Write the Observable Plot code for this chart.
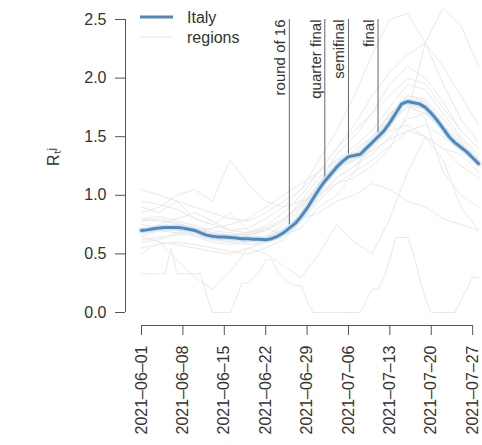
<!DOCTYPE html>
<html><head><meta charset="utf-8">
<script src="https://cdn.jsdelivr.net/npm/d3@7"></script>
<script src="https://cdn.jsdelivr.net/npm/@observablehq/plot@0.6"></script>
<style>
body{margin:0;background:#fff;overflow:hidden}
#wrap{position:relative;width:482px;height:445px;overflow:hidden}
#legend{position:absolute;left:0;top:0}
svg.plot{overflow:hidden}
</style></head><body>
<div id="wrap"><div id="chart"></div>
<svg id="legend" width="260" height="50" style="font:16px 'Liberation Sans',Arial,sans-serif">
  <line x1="140" x2="173" y1="17" y2="17" stroke="#5088bd" stroke-width="3"/>
  <line x1="140" x2="173" y1="37" y2="37" stroke="#e8e8e8" stroke-width="1"/>
  <text x="187" y="23" fill="#333">Italy</text>
  <text x="187" y="43" fill="#333">regions</text>
</svg></div>
<script>
// Italy, daily from 2021-06-01
const italyStart = "2021-06-01";
const italyValues = [0.70,0.705,0.715,0.72,0.725,0.725,0.725,0.72,0.71,0.70,
  0.68,0.66,0.65,0.645,0.645,0.64,0.635,0.63,0.63,0.625,
  0.625,0.62,0.63,0.65,0.68,0.72,0.76,0.82,0.89,0.97,
  1.05,1.12,1.18,1.24,1.29,1.33,1.34,1.35,1.40,1.45,
  1.50,1.55,1.62,1.70,1.78,1.80,1.79,1.78,1.75,1.70,
  1.64,1.57,1.50,1.45,1.41,1.37,1.32,1.27];

// regions, sampled every 3 days
const regionDates = ["2021-06-01","2021-06-04","2021-06-07","2021-06-10","2021-06-13","2021-06-16","2021-06-19","2021-06-22","2021-06-25","2021-06-28",
  "2021-07-01","2021-07-04","2021-07-07","2021-07-10","2021-07-13","2021-07-16","2021-07-19","2021-07-22","2021-07-25","2021-07-28"];
const rA = [0.80,0.82,0.78,0.74,0.70,0.68,0.66,0.70,0.78,0.95,1.15,1.30,1.42,1.55,1.75,1.95,1.90,1.70,1.50,1.35];
const rB = [0.65,0.70,0.75,0.72,0.68,0.62,0.60,0.64,0.72,0.88,1.10,1.35,1.50,1.70,1.95,2.10,2.00,1.80,1.55,1.40];
const rC = [1.05,1.00,0.95,0.90,0.85,0.80,0.78,0.85,0.95,1.05,1.20,1.30,1.35,1.50,1.70,1.85,1.80,1.60,1.45,1.30];
const rD = [0.60,0.62,0.68,0.70,0.72,0.75,0.80,0.90,1.00,1.10,1.20,1.40,1.60,1.85,2.05,2.20,2.30,2.10,1.85,1.60];
const rE = [0.85,0.90,1.00,1.05,0.95,1.30,1.10,0.95,0.90,0.95,1.00,1.15,1.25,1.40,1.55,1.60,1.50,1.40,1.35,1.20];
const rF = [0.75,0.72,0.70,0.66,0.62,0.60,0.58,0.60,0.66,0.80,0.98,1.15,1.25,1.35,1.50,1.65,1.70,1.60,1.45,1.30];
const rG = [0.55,0.58,0.60,0.58,0.55,0.52,0.50,0.55,0.62,0.78,0.95,1.10,1.20,1.30,1.42,1.55,1.60,1.50,1.38,1.25];
const rH = [0.70,0.75,0.80,0.85,0.78,0.70,0.72,0.80,0.90,1.05,1.30,1.55,1.85,2.20,2.50,2.55,2.30,1.95,1.65,1.45];
const rI = [0.65,0.60,0.58,0.55,0.52,0.50,0.55,0.60,0.70,0.85,1.00,1.10,1.15,1.25,1.40,1.70,2.30,2.60,2.45,2.10];
const rJ = [0.78,0.80,0.76,0.72,0.68,0.66,0.68,0.74,0.85,1.00,1.20,1.40,1.55,1.70,1.85,2.00,1.95,1.75,1.55,1.40];
const rK = [0.95,0.92,0.88,0.80,0.75,0.70,0.68,0.72,0.80,0.92,1.05,1.20,1.30,1.45,1.65,1.75,1.70,1.55,1.40,1.25];
const rL = [0.72,0.70,0.68,0.65,0.60,0.58,0.60,0.65,0.75,0.90,1.10,1.25,1.30,1.38,1.48,1.55,1.50,1.40,1.25,1.15];
const rM = [0.90,0.85,0.95,0.80,0.75,0.85,0.70,0.60,0.70,0.80,0.85,0.95,1.00,1.10,1.05,0.95,0.90,0.80,0.75,0.70];
const rN = [0.50,0.60,0.45,0.30,0.20,0.35,0.55,0.50,0.40,0.30,0.50,0.75,0.60,0.50,0.80,1.20,1.50,1.30,0.90,0.70];
const rQ = [0.62,0.64,0.66,0.68,0.64,0.60,0.66,0.72,0.66,0.72,0.90,1.00,1.20,1.45,1.70,1.80,1.65,1.20,1.00,0.90];
const rO = [0.80,0.78,0.76,0.72,0.68,0.66,0.66,0.70,0.78,0.92,1.10,1.28,1.38,1.50,1.68,1.85,1.82,1.65,1.48,1.32];
const rP = [0.68,0.70,0.72,0.70,0.66,0.64,0.62,0.64,0.70,0.84,1.05,1.22,1.32,1.44,1.60,1.76,1.74,1.58,1.42,1.28];
// small region, daily from 2021-06-01
const stepRegion = [0.33,0.33,0.33,0.33,0.33,0.55,0.33,0.33,0.33,0.33,
  0.33,0.15,0.0,0.0,0.0,0.0,0.12,0.25,0.25,0.30,
  0.35,0.45,0.45,0.35,0.30,0.25,0.23,0.23,0.10,0.0,
  0.0,0.0,0.0,0.0,0.0,0.0,0.0,0.0,0.10,0.20,
  0.20,0.30,0.45,0.64,0.64,0.64,0.50,0.30,0.12,0.0,
  0.0,0.0,0.0,0.0,0.10,0.20,0.30,0.30];

const eventDates = ["2021-06-26","2021-07-02","2021-07-06","2021-07-11"];
const eventLabels = ["round of 16","quarter final","semifinal","final"];
const xTickLabels = ["2021-06-01","2021-06-08","2021-06-15","2021-06-22","2021-06-29","2021-07-06","2021-07-13","2021-07-20","2021-07-27"];
const yTicks = [0,0.5,1,1.5,2,2.5];
const yLabel = "Rₜʲ";

const parse = d3.utcParse("%Y-%m-%d");
const start = parse(italyStart);
const italy = italyValues.map((v,i)=>({date:d3.utcDay.offset(start,i), value:v}));
const grayRegions = [rA,rB,rC,rD,rE,rF,rG,rH,rI,rJ,rK,rL,rM,rN,rQ];
const orangeRegions = [rO,rP];
const toRows = list => list.flatMap((vals,k)=>vals.map((v,i)=>({id:k,date:parse(regionDates[i]),value:v})));
const grayRows = toRows(grayRegions).concat(stepRegion.map((v,i)=>({id:99,date:d3.utcDay.offset(start,i),value:v})));
const orangeRows = toRows(orangeRegions);
const italyAt = d => italyValues[d3.utcDay.count(start,d)];
const events = eventDates.map((s,i)=>({date:parse(s),label:eventLabels[i]}));
const xTicks = xTickLabels.map(parse);
const fmt = d3.utcFormat("%Y-%m-%d");
const axisColor = "#555";
const textColor = "#333";

const chart = Plot.plot({
  width:482, height:445,
  marginLeft:141, marginRight:0, marginTop:19, marginBottom:133,
  x:{type:"utc", domain:[start, d3.utcHour.offset(parse("2021-07-28"),16)]},
  y:{domain:[0,2.5]},
  style:{fontFamily:"'Liberation Sans',Arial,sans-serif", fontSize:"16px", color:textColor, background:"#fff"},
  marks:[
    Plot.line(grayRows,{x:"date",y:"value",z:"id",stroke:"#e9e9e9",strokeWidth:1}),
    Plot.line(orangeRows,{x:"date",y:"value",z:"id",stroke:"#f7e4d4",strokeWidth:1}),
    Plot.ruleX(events,{x:"date",y1:2.5,y2:d=>italyAt(d.date),stroke:"#666",strokeWidth:1}),
    Plot.text(events,{x:"date",y:2.5,text:"label",rotate:-90,textAnchor:"end",dx:-9,fill:textColor,fontSize:15}),
    Plot.line(italy,{x:"date",y:"value",stroke:"#d3e6f4",strokeWidth:6}),
    Plot.line(italy,{x:"date",y:"value",stroke:"#5088bd",strokeWidth:3}),
    Plot.ruleX([start],{y1:0,y2:2.5,dx:-16,stroke:axisColor}),
    Plot.axisY({ticks:yTicks,tickFormat:d3.format(".1f"),tickSize:10,tickPadding:9,dx:-16,label:null,stroke:axisColor,fill:textColor,fontSize:16}),
    Plot.ruleY([0],{x1:xTicks[0],x2:xTicks[xTicks.length-1],dy:13,stroke:axisColor}),
    Plot.axisX({ticks:xTicks,tickFormat:d=>fmt(d).replace(/-/g,"–"),tickSize:10,tickPadding:10,tickRotate:-90,dy:13,label:null,stroke:axisColor,fill:textColor,fontSize:16}),
    Plot.text([yLabel],{frameAnchor:"left",dx:-88,rotate:-90,fill:textColor,fontSize:16})
  ]
});
document.getElementById("chart").appendChild(chart);
</script>
</body></html>
